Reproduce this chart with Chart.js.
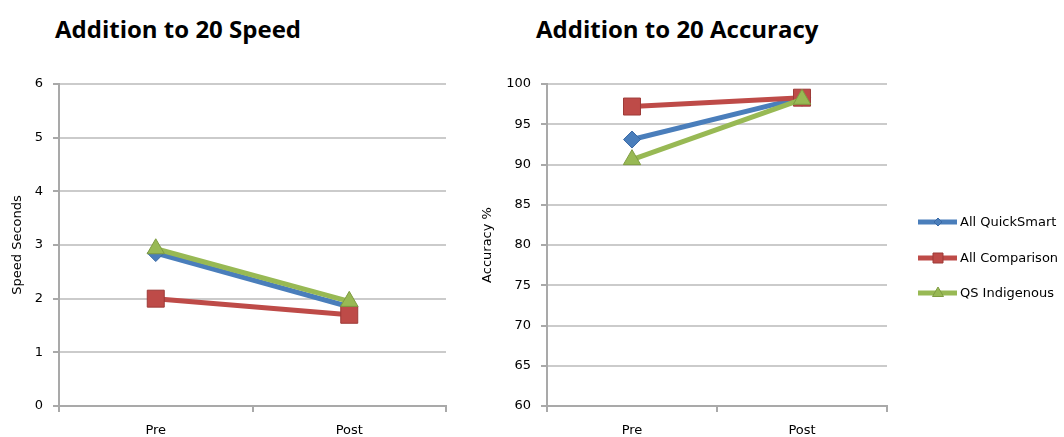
<!DOCTYPE html>
<html>
<head>
<meta charset="utf-8">
<script src="https://cdn.jsdelivr.net/npm/chart.js@4/dist/chart.umd.min.js"></script>
<style>
  html, body { margin: 0; padding: 0; background: #fff; }
  body { width: 1064px; height: 437px; position: relative; overflow: hidden; }
  .title { position: absolute; font-family: "Open Sans", sans-serif; font-weight: 700; font-size: 24px; line-height: 32px; color: #000; white-space: nowrap; }
  .panel { position: absolute; top: 0; height: 437px; }
</style>
</head>
<body>
<div class="title" style="left:55px; top:13px;">Addition to 20 Speed</div>
<div class="title" style="left:536px; top:13px;">Addition to 20 Accuracy</div>
<div class="panel" style="left:0; width:460px;"><canvas id="speed" width="460" height="437"></canvas></div>
<div class="panel" style="left:470px; width:594px;"><canvas id="accuracy" width="594" height="437"></canvas></div>

<script>
// Test phases
const phases = ['Pre', 'Post'];

// Series names
const seriesNames = ['All QuickSmart', 'All Comparison', 'QS Indigenous'];

// Addition to 20 – average response time (seconds)
const speedQuickSmart = [2.85, 1.85];
const speedComparison = [2.0, 1.7];
const speedIndigenous = [2.93, 1.95];

// Addition to 20 – accuracy (%)
const accQuickSmart = [93.1, 98.3];
const accComparison = [97.2, 98.3];
const accIndigenous = [90.6, 98.1];

// Axis ranges
const speedAxis = { min: 0, max: 6, step: 1 };
const accAxis = { min: 60, max: 100, step: 5 };

const BLUE = '#4a7ebb', RED = '#be4b48', GREEN = '#98b954';
const styles = [
  { color: BLUE,  border: '#3a6aa6', point: 'rectRot',  radius: 8.5, order: 3 },
  { color: RED,   border: '#9d3a37', point: 'rect',     radius: 12,  order: 2 },
  { color: GREEN, border: '#7f9c42', point: 'triangle', radius: 10,  order: 1 }
];

const FONT = 'DejaVu Sans';
const FSIZE = 13;
const GRID = '#cbcbcb';
const AXIS = '#a9a9a9';

function makeDatasets(seriesValues) {
  return seriesValues.map((vals, i) => ({
    label: seriesNames[i],
    data: vals,
    borderColor: styles[i].color,
    backgroundColor: styles[i].color,
    borderWidth: 5,
    pointStyle: styles[i].point,
    pointRadius: styles[i].radius,
    pointHoverRadius: styles[i].radius,
    pointBackgroundColor: styles[i].color,
    pointBorderColor: styles[i].border,
    pointBorderWidth: 1,
    order: styles[i].order,
    tension: 0
  }));
}

function makeOptions(axis, yTitle, yWidth, padRight) {
  return {
    responsive: false,
    animation: false,
    events: [],
    layout: { padding: { left: 0, right: padRight, top: 84, bottom: 0 } },
    plugins: { legend: { display: false }, tooltip: { enabled: false }, title: { display: false } },
    scales: {
      x: {
        offset: true,
        grid: { display: true, offset: true, drawOnChartArea: false, drawTicks: true, tickLength: 6, tickColor: AXIS, lineWidth: 2 },
        border: { display: true, color: AXIS, width: 2 },
        ticks: { color: '#000', font: { family: FONT, size: FSIZE }, padding: 11 },
        afterFit: s => { s.height = 31; }
      },
      y: {
        min: axis.min, max: axis.max,
        grid: { color: GRID, lineWidth: 2, drawTicks: true, tickLength: 6, tickColor: AXIS },
        border: { display: true, color: AXIS, width: 2 },
        ticks: { stepSize: axis.step, color: '#000', font: { family: FONT, size: FSIZE }, padding: 10 },
        title: { display: true, text: yTitle, color: '#000', font: { family: FONT, size: FSIZE }, padding: { top: 10, bottom: 0 } },
        afterFit: s => { s.width = yWidth; }
      }
    }
  };
}

// Legend drawn beside the accuracy plot: a short line with the series marker, then the name
const sideLegend = {
  id: 'sideLegend',
  afterDraw(chart) {
    const ctx = chart.ctx;
    const x0 = 448, x1 = 487, mx = 468, tx = 490;
    const rows = [222, 258, 293];
    ctx.save();
    chart.data.datasets.forEach((ds, i) => {
      const y = rows[i];
      ctx.strokeStyle = ds.borderColor;
      ctx.lineWidth = 5;
      ctx.lineCap = 'butt';
      ctx.beginPath(); ctx.moveTo(x0, y); ctx.lineTo(x1, y); ctx.stroke();
      ctx.fillStyle = ds.pointBackgroundColor;
      ctx.strokeStyle = ds.pointBorderColor;
      ctx.lineWidth = 1;
      ctx.beginPath();
      if (ds.pointStyle === 'rectRot') {
        const r = 4;
        ctx.moveTo(mx, y - r); ctx.lineTo(mx + r, y); ctx.lineTo(mx, y + r); ctx.lineTo(mx - r, y); ctx.closePath();
      } else if (ds.pointStyle === 'rect') {
        ctx.rect(mx - 5, y - 5, 10, 10);
      } else {
        ctx.moveTo(mx, y - 6); ctx.lineTo(mx + 5.5, y + 3.5); ctx.lineTo(mx - 5.5, y + 3.5); ctx.closePath();
      }
      ctx.fill(); ctx.stroke();
      ctx.fillStyle = '#000';
      ctx.font = FSIZE + 'px "' + FONT + '"';
      ctx.textBaseline = 'middle';
      ctx.textAlign = 'left';
      ctx.fillText(ds.label, tx, y + 1);
    });
    ctx.restore();
  }
};

new Chart(document.getElementById('speed'), {
  type: 'line',
  data: { labels: phases, datasets: makeDatasets([speedQuickSmart, speedComparison, speedIndigenous]) },
  options: makeOptions(speedAxis, 'Speed Seconds', 59, 14)
});

new Chart(document.getElementById('accuracy'), {
  type: 'line',
  data: { labels: phases, datasets: makeDatasets([accQuickSmart, accComparison, accIndigenous]) },
  options: makeOptions(accAxis, 'Accuracy %', 77, 177),
  plugins: [sideLegend]
});
</script>
</body>
</html>
